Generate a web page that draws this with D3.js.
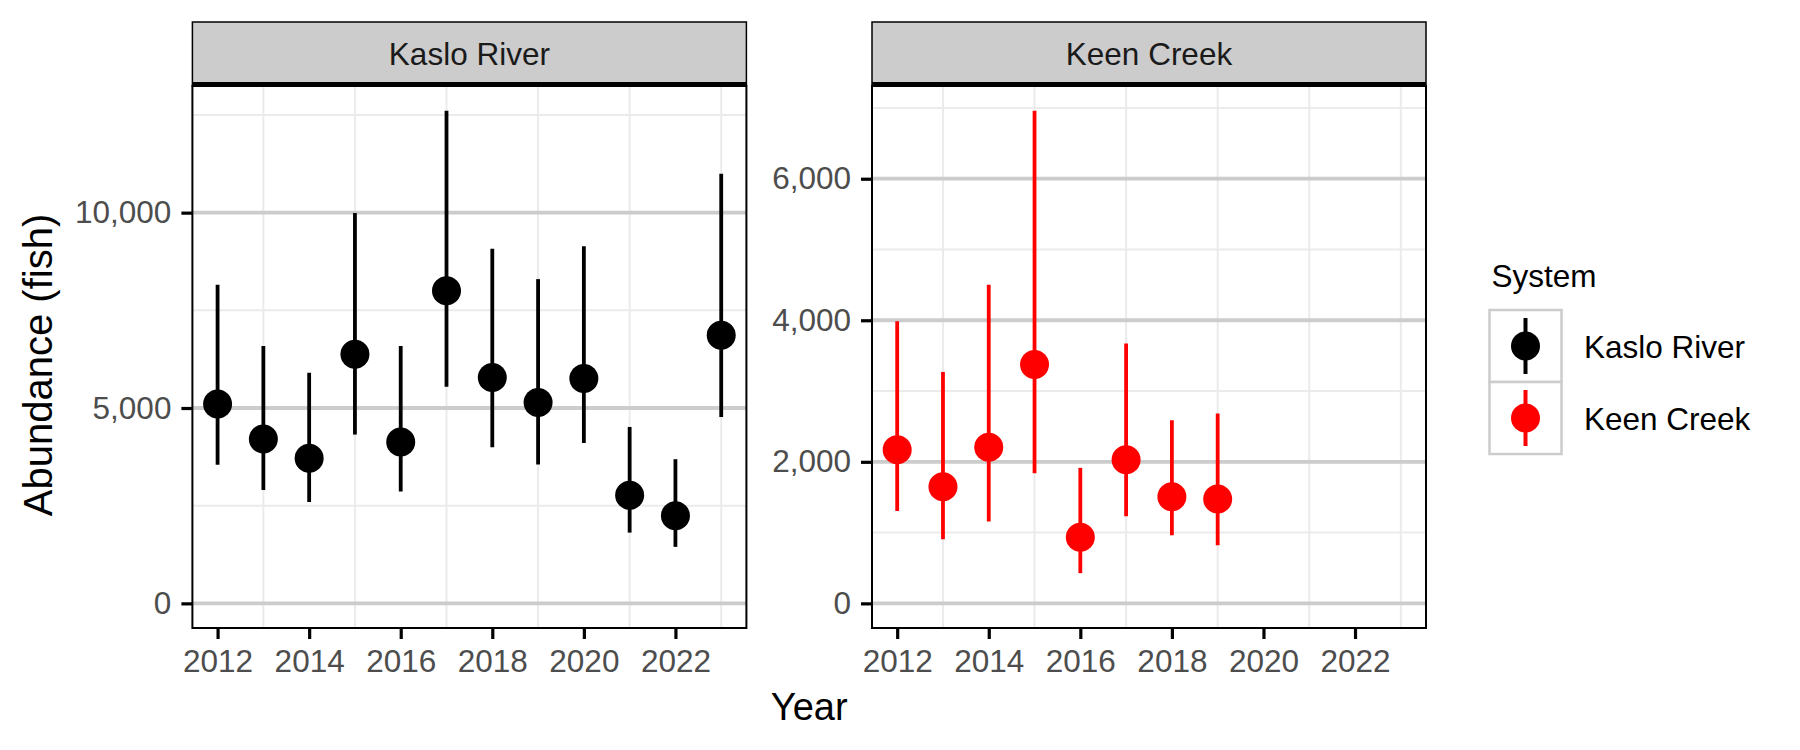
<!DOCTYPE html>
<html>
<head>
<meta charset="utf-8">
<script src="https://cdn.jsdelivr.net/npm/d3@7"></script>
<style>
  html, body { margin: 0; padding: 0; background: #fff; }
  svg { display: block; font-family: "Liberation Sans", Arial, Helvetica, sans-serif; }
</style>
</head>
<body>
<svg id="chart" width="1800" height="750"></svg>
<script>
// ---- data ----
const systems = ["Kaslo River", "Keen Creek"];
const systemColors = ["#000000", "#FF0000"];

const kasloYears = [2012, 2013, 2014, 2015, 2016, 2017, 2018, 2019, 2020, 2021, 2022, 2023];
const kasloEst   = [5102, 4209, 3716, 6378, 4133, 8002, 5782, 5144, 5757, 2764, 2245, 6862];
const kasloLower = [3546, 2900, 2594, 4320, 2866, 5544, 3997, 3554, 4107, 1811, 1446, 4770];
const kasloUpper = [8156, 6590, 5901, 9992, 6590, 12611, 9073, 8299, 9141, 4515, 3690, 10995];

const keenYears = [2012, 2013, 2014, 2015, 2016, 2017, 2018, 2019];
const keenEst   = [2169, 1648, 2207, 3376, 934, 2028, 1507, 1474];
const keenLower = [1305, 906, 1155, 1840, 427, 1230, 962, 821];
const keenUpper = [3986, 3270, 4502, 6962, 1915, 3671, 2587, 2681];

const xTickYears = [2012, 2014, 2016, 2018, 2020, 2022];
const xMinorYears = [2013, 2015, 2017, 2019, 2021, 2023];
const kasloYTicks = [0, 5000, 10000];
const kasloYMinor = [2500, 7500, 12500];
const keenYTicks = [0, 2000, 4000, 6000];
const keenYMinor = [1000, 3000, 5000, 7000];

const xTitle = "Year";
const yTitle = "Abundance (fish)";
const legendTitle = "System";

// ---- layout ----
const svg = d3.select("#chart");
const panelTop = 86, panelBottom = 628, stripTop = 22;
const panelsX = [[192.4, 746.4], [872, 1426]];
const FS = 31.5;

const makeRows = (yrs, est, lo, hi) => yrs.map((y, i) => ({ year: y, est: est[i], lo: lo[i], hi: hi[i] }));
const facets = [
  { name: systems[0], color: systemColors[0], rows: makeRows(kasloYears, kasloEst, kasloLower, kasloUpper), ticks: kasloYTicks, minor: kasloYMinor },
  { name: systems[1], color: systemColors[1], rows: makeRows(keenYears, keenEst, keenLower, keenUpper), ticks: keenYTicks, minor: keenYMinor }
];

const allYears = kasloYears.concat(keenYears);
const xmin = d3.min(allYears), xmax = d3.max(allYears);
const xpad = (xmax - xmin) * 0.05;

facets.forEach((f, fi) => {
  const [x0, x1] = panelsX[fi];
  const x = d3.scaleLinear().domain([xmin - xpad, xmax + xpad]).range([x0, x1]);
  const ymaxData = d3.max(f.rows, d => d.hi);
  const ypad = ymaxData * 0.05;
  const y = d3.scaleLinear().domain([0 - ypad, ymaxData + ypad]).range([panelBottom, panelTop]);

  const g = svg.append("g");
  g.append("rect").attr("x", x0).attr("y", panelTop).attr("width", x1 - x0).attr("height", panelBottom - panelTop).attr("fill", "#fff");

  g.selectAll(".hmin").data(f.minor.filter(v => y(v) > panelTop)).join("line")
    .attr("x1", x0).attr("x2", x1).attr("y1", d => y(d)).attr("y2", d => y(d))
    .attr("stroke", "#EBEBEB").attr("stroke-width", 2);
  g.selectAll(".vmin").data(xMinorYears).join("line")
    .attr("x1", d => x(d)).attr("x2", d => x(d)).attr("y1", panelTop).attr("y2", panelBottom)
    .attr("stroke", "#EBEBEB").attr("stroke-width", 2);
  g.selectAll(".hmaj").data(f.ticks).join("line")
    .attr("x1", x0).attr("x2", x1).attr("y1", d => y(d)).attr("y2", d => y(d))
    .attr("stroke", "#CCCCCC").attr("stroke-width", 3.8);

  g.selectAll(".err").data(f.rows).join("line")
    .attr("x1", d => x(d.year)).attr("x2", d => x(d.year))
    .attr("y1", d => y(d.lo)).attr("y2", d => y(d.hi))
    .attr("stroke", f.color).attr("stroke-width", 3.8);
  g.selectAll(".pt").data(f.rows).join("circle")
    .attr("cx", d => x(d.year)).attr("cy", d => y(d.est)).attr("r", 14.5)
    .attr("fill", f.color);

  g.append("rect").attr("x", x0).attr("y", panelTop).attr("width", x1 - x0).attr("height", panelBottom - panelTop)
    .attr("fill", "none").attr("stroke", "#000").attr("stroke-width", 2);

  g.append("rect").attr("x", x0).attr("y", stripTop).attr("width", x1 - x0).attr("height", panelTop - stripTop)
    .attr("fill", "#CCCCCC").attr("stroke", "#000").attr("stroke-width", 1.5);
  g.append("line").attr("x1", x0).attr("x2", x1).attr("y1", 84.3).attr("y2", 84.3)
    .attr("stroke", "#000").attr("stroke-width", 4.5);
  g.append("text").attr("x", (x0 + x1) / 2).attr("y", 65).attr("text-anchor", "middle")
    .attr("font-size", FS).attr("fill", "#1A1A1A").text(f.name);

  const ya = g.append("g").attr("transform", `translate(${x0},0)`)
    .call(d3.axisLeft(y).tickValues(f.ticks).tickFormat(d3.format(",")).tickSize(11).tickPadding(10).tickSizeOuter(0));
  ya.select(".domain").remove();
  ya.selectAll(".tick line").attr("stroke", "#000").attr("stroke-width", 3.2);
  ya.selectAll(".tick text").attr("font-size", FS).attr("fill", "#4D4D4D").attr("font-family", null);

  const xa = g.append("g").attr("transform", `translate(0,${panelBottom})`)
    .call(d3.axisBottom(x).tickValues(xTickYears).tickFormat(d3.format("d")).tickSize(11).tickPadding(11).tickSizeOuter(0));
  xa.select(".domain").remove();
  xa.selectAll(".tick line").attr("stroke", "#000").attr("stroke-width", 3.2);
  xa.selectAll(".tick text").attr("font-size", FS).attr("fill", "#4D4D4D").attr("font-family", null);
});

svg.append("text").attr("x", (panelsX[0][0] + panelsX[1][1]) / 2).attr("y", 719.5)
  .attr("text-anchor", "middle").attr("font-size", 38).attr("fill", "#000").text(xTitle);
svg.append("text").attr("transform", "translate(52,365) rotate(-90)")
  .attr("text-anchor", "middle").attr("font-size", 40).attr("fill", "#000").text(yTitle);

const lg = svg.append("g");
lg.append("text").attr("x", 1491.5).attr("y", 286.5).attr("font-size", FS).attr("fill", "#000").text(legendTitle);
systems.forEach((s, i) => {
  const ky = 310 + i * 72;
  lg.append("rect").attr("x", 1489.5).attr("y", ky).attr("width", 72).attr("height", 72)
    .attr("fill", "#fff").attr("stroke", "#CCCCCC").attr("stroke-width", 2.5);
  lg.append("line").attr("x1", 1525.5).attr("x2", 1525.5).attr("y1", ky + 8).attr("y2", ky + 64)
    .attr("stroke", systemColors[i]).attr("stroke-width", 4);
  lg.append("circle").attr("cx", 1525.5).attr("cy", ky + 36).attr("r", 14.5).attr("fill", systemColors[i]);
  lg.append("text").attr("x", 1584).attr("y", ky + 48).attr("font-size", FS).attr("fill", "#000").text(s);
});
</script>
</body>
</html>
